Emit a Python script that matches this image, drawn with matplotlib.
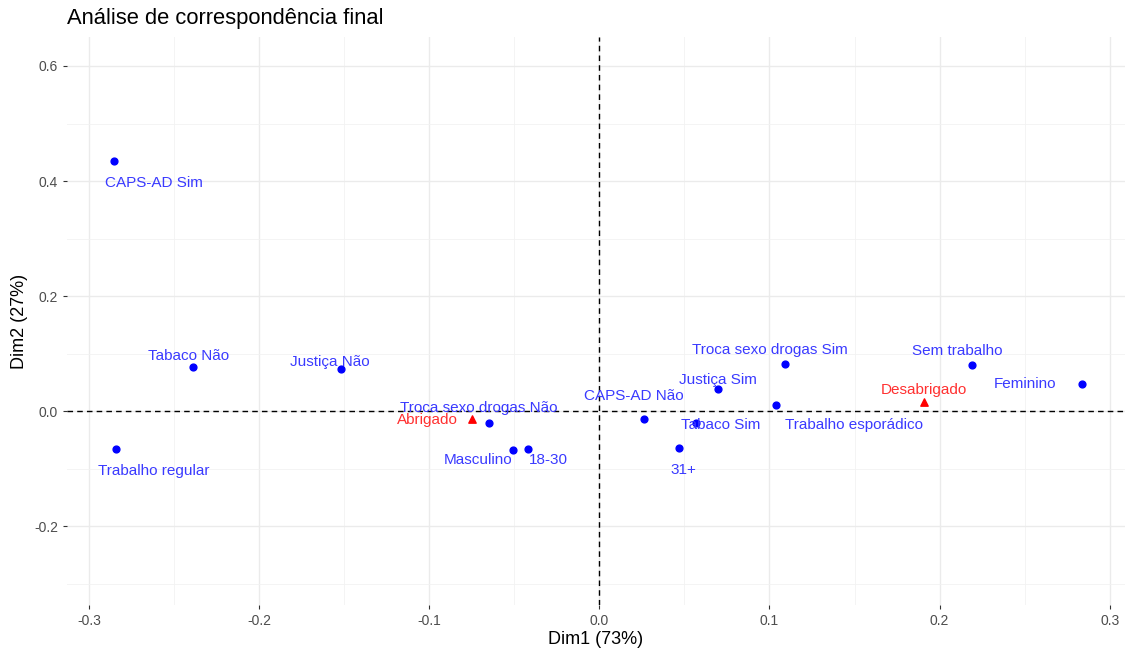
#!/usr/bin/env python3
import matplotlib
matplotlib.use("Agg")
import matplotlib.pyplot as plt
from matplotlib.ticker import MultipleLocator

plt.rcParams['font.family'] = ['Liberation Sans', 'DejaVu Sans']

# column categories (blue points)
col_labels = ["CAPS-AD Sim", "Tabaco Não", "Justiça Não", "Trabalho regular",
              "Troca sexo drogas Não", "Masculino", "18-30", "CAPS-AD Não",
              "Tabaco Sim", "31+", "Justiça Sim", "Troca sexo drogas Sim",
              "Trabalho esporádico", "Sem trabalho", "Feminino"]
col_dim1 = [-0.285, -0.239, -0.152, -0.284, -0.065, -0.051, -0.042, 0.026,
            0.057, 0.047, 0.070, 0.109, 0.104, 0.219, 0.284]
col_dim2 = [0.435, 0.077, 0.073, -0.066, -0.021, -0.068, -0.066, -0.014,
            -0.021, -0.064, 0.038, 0.082, 0.010, 0.080, 0.047]

# row categories (red triangles)
row_labels = ["Abrigado", "Desabrigado"]
row_dim1 = [-0.075, 0.191]
row_dim2 = [-0.014, 0.016]

# label offsets in pixels (repel-style placement)
col_offsets = [(39, -22), (-4, 11), (-11, 7), (38, -22), (-10, 15), (-34, -10),
               (21, -11), (-10, 23), (24, -2), (4, -22), (0, 9), (-15, 14),
               (78, -20), (-15, 14), (-57, 0)]
row_offsets = [(-44, -1), (0, 12)]

fig = plt.figure(figsize=(11.28, 6.61), dpi=100)
ax = fig.add_axes([0.0594, 0.0847, 0.9378, 0.859])

ax.set_xlim(-0.3129, 0.3089)
ax.set_ylim(-0.337, 0.650)

ax.xaxis.set_major_locator(MultipleLocator(0.1))
ax.xaxis.set_minor_locator(MultipleLocator(0.05))
ax.yaxis.set_major_locator(MultipleLocator(0.2))
ax.yaxis.set_minor_locator(MultipleLocator(0.1))
ax.grid(which='major', color='#ebebeb', linewidth=1.0)
ax.grid(which='minor', color='#f2f2f2', linewidth=0.6)
ax.set_axisbelow(True)
for s in ax.spines.values():
    s.set_visible(False)
ax.tick_params(which='major', length=3, color='#333333', labelcolor='#4d4d4d', labelsize=10)
ax.tick_params(which='minor', length=0)
ax.xaxis.set_major_formatter(plt.FuncFormatter(lambda v, p: f"{v:.1f}".replace("-0.0", "0.0")))
ax.yaxis.set_major_formatter(plt.FuncFormatter(lambda v, p: f"{v:.1f}".replace("-0.0", "0.0")))

ax.axhline(0, color='black', linestyle=(0, (4, 3)), linewidth=1.0)
ax.axvline(0, color='black', linestyle=(0, (4, 3)), linewidth=1.0)

ax.scatter(col_dim1, col_dim2, s=24, color='#0000ff', zorder=3)
ax.scatter(row_dim1, row_dim2, s=28, color='#ff0000', marker='^', zorder=3)

for lab, x, y, off in zip(col_labels, col_dim1, col_dim2, col_offsets):
    ax.annotate(lab, (x, y), xytext=(off[0] * 0.72, off[1] * 0.72), textcoords='offset points',
                ha='center', va='center', color='#3a3aff', fontsize=11, zorder=4)
for lab, x, y, off in zip(row_labels, row_dim1, row_dim2, row_offsets):
    ax.annotate(lab, (x, y), xytext=(off[0] * 0.72, off[1] * 0.72), textcoords='offset points',
                ha='center', va='center', color='#ff3030', fontsize=11, zorder=4)

ax.set_xlabel("Dim1 (73%)", fontsize=13, labelpad=2)
ax.set_ylabel("Dim2 (27%)", fontsize=13, labelpad=4)
fig.text(0.0594, 0.972, "Análise de correspondência final", fontsize=15.8, ha='left', va='center')

fig.savefig("out.png", dpi=100)
